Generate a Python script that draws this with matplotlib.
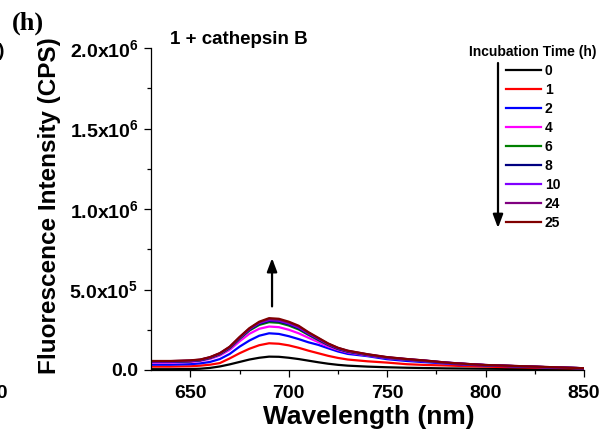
import matplotlib
matplotlib.use("Agg")
import matplotlib.pyplot as plt
import matplotlib.ticker as mticker
import numpy as np

# ── Data: fluorescence intensity in units of 1e4 CPS ──
wavelength = [630, 640, 650, 655, 660, 665, 670, 675, 680, 685, 690, 695, 700,
              705, 710, 715, 720, 725, 730, 740, 750, 760, 770, 780, 790, 800,
              810, 820, 830, 840, 850]

i_0h  = [0.5, 0.5, 0.6, 0.8, 1.3, 2.2, 3.5, 5.0, 6.5, 7.6, 8.3, 8.2, 7.6,
         6.8, 5.8, 4.8, 3.9, 3.2, 2.7, 2.1, 1.7, 1.4, 1.2, 1.0, 0.9, 0.8,
         0.7, 0.6, 0.5, 0.5, 0.4]
i_1h  = [2.1, 2.1, 2.3, 2.7, 3.3, 4.3, 7.2, 10.4, 13.2, 15.4, 16.6, 16.3, 15.3,
         13.8, 12.0, 10.4, 8.8, 7.5, 6.5, 5.4, 4.6, 3.6, 3.1, 2.8, 2.4, 2.1,
         1.8, 1.6, 1.3, 1.1, 0.9]
i_2h  = [3.3, 3.3, 3.6, 4.1, 5.0, 6.8, 10.0, 14.5, 18.3, 21.3, 22.8, 22.4, 21.0,
         19.2, 17.2, 15.6, 13.5, 11.5, 10.0, 8.6, 6.7, 5.6, 4.8, 4.0, 3.3, 2.8,
         2.4, 2.0, 1.7, 1.4, 1.1]
i_4h  = [4.6, 4.6, 5.0, 5.6, 6.9, 9.0, 12.5, 17.8, 22.5, 25.6, 27.0, 26.6, 25.0,
         22.8, 20.0, 17.3, 14.6, 12.5, 10.9, 9.0, 7.4, 6.3, 5.4, 4.4, 3.6, 3.0,
         2.6, 2.2, 1.8, 1.4, 1.1]
i_6h  = [5.0, 5.0, 5.4, 6.0, 7.4, 9.7, 13.5, 19.3, 24.5, 28.0, 29.7, 29.3, 27.6,
         25.2, 21.8, 18.6, 15.5, 13.0, 11.3, 9.3, 7.6, 6.5, 5.5, 4.5, 3.7, 3.0,
         2.6, 2.2, 1.8, 1.4, 1.1]
i_8h  = [5.1, 5.1, 5.5, 6.1, 7.6, 10.0, 13.9, 19.7, 25.0, 28.7, 30.5, 30.1, 28.4,
         25.9, 22.3, 19.0, 15.8, 13.2, 11.5, 9.4, 7.7, 6.6, 5.6, 4.5, 3.7, 3.0,
         2.6, 2.2, 1.8, 1.4, 1.1]
i_10h = [5.3, 5.3, 5.7, 6.3, 7.8, 10.2, 14.1, 20.0, 25.4, 29.2, 31.0, 30.6, 28.9,
         26.4, 22.7, 19.4, 16.1, 13.5, 11.7, 9.6, 7.8, 6.7, 5.7, 4.6, 3.8, 3.1,
         2.6, 2.2, 1.8, 1.4, 1.1]
i_24h = [5.5, 5.5, 5.9, 6.4, 7.9, 10.4, 14.3, 20.3, 25.7, 29.6, 31.6, 31.2, 29.5,
         27.0, 23.1, 19.7, 16.3, 13.7, 11.9, 9.7, 7.9, 6.8, 5.8, 4.6, 3.8, 3.1,
         2.7, 2.3, 1.9, 1.5, 1.1]
i_25h = [5.6, 5.6, 6.0, 6.5, 8.0, 10.5, 14.5, 20.5, 26.0, 30.0, 32.2, 31.8, 30.0,
         27.5, 23.5, 20.0, 16.5, 13.8, 12.0, 9.8, 8.0, 6.8, 5.8, 4.6, 3.8, 3.1,
         2.7, 2.3, 1.9, 1.5, 1.1]

series = [i_0h, i_1h, i_2h, i_4h, i_6h, i_8h, i_10h, i_24h, i_25h]
times  = ["0", "1", "2", "4", "6", "8", "10", "24", "25"]

x_ticks = [650, 700, 750, 800, 850]
y_ticks = [0, 5e5, 1e6, 1.5e6, 2e6]
y_tick_labels = ["0.0", r"$5.0x10^{5}$", r"$1.0x10^{6}$", r"$1.5x10^{6}$", r"$2.0x10^{6}$"]

colors = ["#000000", "#ff0000", "#0000ff", "#ff00ff", "#008000",
          "#000080", "#8000ff", "#800080", "#800000"]

# ── Style ──
plt.rcParams["font.family"] = ["Liberation Sans", "DejaVu Sans"]
plt.rcParams["font.weight"] = "bold"
plt.rcParams["mathtext.fontset"] = "custom"
plt.rcParams["mathtext.rm"] = "Liberation Sans:bold"
plt.rcParams["mathtext.bf"] = "Liberation Sans:bold"
plt.rcParams["mathtext.default"] = "bf"

W, H = 610, 438
fig = plt.figure(figsize=(W / 100, H / 100), dpi=100)
ax = fig.add_axes([151 / W, 1 - 370 / H, (584 - 151) / W, (370 - 48) / H])

for vals, lab, col in zip(series, times, colors):
    ax.plot(wavelength, np.array(vals) * 1e4, color=col, lw=1.6, label=lab)

ax.set_xlim(630, 850)
ax.set_ylim(0, 2e6)
ax.set_xticks(x_ticks)
ax.xaxis.set_minor_locator(mticker.MultipleLocator(25))
ax.set_yticks(y_ticks)
ax.set_yticklabels(y_tick_labels)
ax.yaxis.set_minor_locator(mticker.MultipleLocator(2.5e5))

for s in ["top", "right"]:
    ax.spines[s].set_visible(False)
for s in ["left", "bottom"]:
    ax.spines[s].set_linewidth(0.9)
ax.tick_params(which="major", direction="out", length=5, width=0.9, labelsize=14, pad=4)
ax.tick_params(which="minor", direction="out", length=3, width=0.9)
ax.tick_params(axis="x", pad=6)
for t in ax.get_xticklabels() + ax.get_yticklabels():
    t.set_fontweight("bold")

ax.set_xlabel("Wavelength (nm)", fontsize=19, fontweight="bold")
ax.xaxis.set_label_coords(0.503, -0.11)
ax.set_ylabel("Fluorescence Intensity (CPS)", fontsize=17.5, fontweight="bold")
ax.yaxis.set_label_coords(-0.208, 0.509)

# ── Legend with title ──
leg = ax.legend(loc="upper center", bbox_to_anchor=(533 / W, 1 - 35 / H),
                bbox_transform=fig.transFigure, frameon=False,
                title="Incubation Time (h)", prop={"size": 10, "weight": "bold"},
                title_fontproperties={"size": 10, "weight": "bold"},
                handlelength=2.5, handletextpad=0.3, labelspacing=0.36,
                borderpad=0.2)

# ── Arrows and annotations ──
ax.annotate("", xy=(498 / W, 1 - 228 / H), xytext=(498 / W, 1 - 63 / H),
            xycoords="figure fraction", textcoords="figure fraction",
            arrowprops=dict(arrowstyle="-|>,head_length=0.8,head_width=0.3",
                            color="black", lw=1.6, shrinkA=0, shrinkB=0))
ax.annotate("", xy=(691.5, 6.95e5), xytext=(691.5, 3.95e5),
            arrowprops=dict(arrowstyle="-|>,head_length=0.8,head_width=0.3",
                            color="black", lw=1.6, shrinkA=0, shrinkB=0))

fig.text(170 / W, 1 - 44 / H, "1 + cathepsin B", fontsize=13.5,
         fontweight="bold", va="baseline", ha="left")
fig.text(12 / W, 1 - 30 / H, "(h)", fontsize=19, fontweight="bold",
         family="Liberation Serif", va="baseline", ha="left")
# clipped pieces of the neighbouring panel
fig.text(4 / W, 1 - 52 / H, ")", fontsize=14, fontweight="bold",
         va="center", ha="right")
fig.text(8 / W, 1 - 393 / H, "850", fontsize=14, fontweight="bold",
         va="center", ha="right")

fig.savefig("out.png", dpi=100)
